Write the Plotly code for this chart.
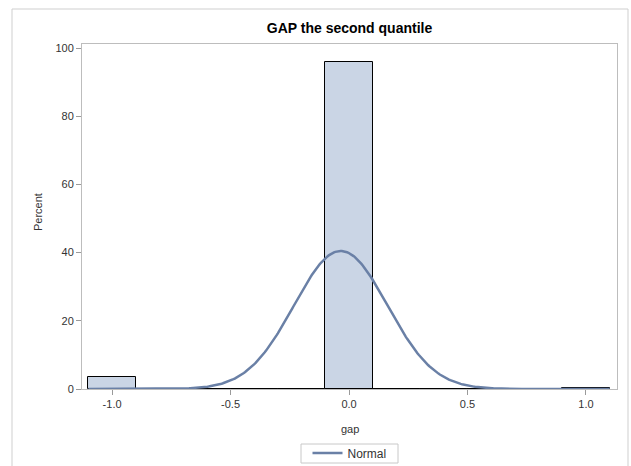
import numpy as np
import plotly.graph_objects as go

# ---- data ----
bin_centers = [-1.0, -0.8, -0.6, -0.4, -0.2, 0.0, 0.2, 0.4, 0.6, 0.8, 1.0]
bin_percent = [3.6, 0.0, 0.0, 0.0, 0.0, 96.0, 0.0, 0.0, 0.0, 0.0, 0.4]
bin_width = 0.2
normal_mean = -0.035
normal_std = 0.197
x_tick_vals = [-1.0, -0.5, 0.0, 0.5, 1.0]
x_tick_text = ["-1.0", "-0.5", "0.0", "0.5", "1.0"]
y_tick_vals = [0, 20, 40, 60, 80, 100]
y_tick_text = ["0", "20", "40", "60", "80", "100"]
title_text = "GAP the second quantile"
x_label = "gap"
y_label = "Percent"
legend_label = "Normal"

# normal fit curve (percent scale for the bin width)
lo = min(bin_centers) - bin_width / 2
hi = max(bin_centers) + bin_width / 2
xs = np.linspace(lo, hi, 400)
ys = 100 * bin_width * np.exp(-0.5 * ((xs - normal_mean) / normal_std) ** 2) / (normal_std * np.sqrt(2 * np.pi))

W, H = 631, 466
L, R, T, B = 82, 14, 44, 77
pw, ph = W - L - R, H - T - B

fig = go.Figure()
fig.add_trace(go.Bar(
    x=bin_centers, y=bin_percent, width=bin_width,
    marker=dict(color="#CAD5E5", line=dict(color="black", width=1)),
    showlegend=False, hoverinfo="skip",
))
fig.add_trace(go.Scatter(
    x=xs, y=ys, mode="lines", name=legend_label,
    line=dict(color="#6A80A6", width=2.5),
))

font = "Liberation Sans, Arial, sans-serif"
axis_common = dict(
    showline=True, linecolor="#BDBDBD", linewidth=1, mirror=True,
    ticks="outside", ticklen=5, tickcolor="#9A9A9A", tickwidth=1,
    showgrid=False, zeroline=False,
    tickfont=dict(family=font, size=11, color="#333333"),
)
fig.update_layout(
    width=W, height=H,
    margin=dict(l=L, r=R, t=T, b=B, autoexpand=False),
    paper_bgcolor="white", plot_bgcolor="white",
    bargap=0,
    xaxis=dict(range=[-1.127, 1.131], tickvals=x_tick_vals, ticktext=x_tick_text, **axis_common),
    yaxis=dict(range=[0, 101.2], tickvals=y_tick_vals, ticktext=y_tick_text, **axis_common),
    title=dict(text="<b>" + title_text + "</b>", x=(L + pw / 2) / W, xanchor="center",
               y=1 - 28 / H, yanchor="middle", font=dict(family=font, size=14, color="black")),
    showlegend=True,
    legend=dict(orientation="h", x=0.5, xanchor="center", y=(389 - 453) / ph, yanchor="middle",
                borderwidth=0, bgcolor="rgba(0,0,0,0)",
                font=dict(family=font, size=12, color="#333333"),
                tracegroupgap=0),
    font=dict(family=font),
)
# baseline outline of empty bins
fig.add_shape(type="line", xref="x", yref="y", x0=lo, x1=hi, y0=0, y1=0,
              line=dict(color="black", width=1), layer="below")
# outer frame around the graph
fig.add_shape(type="rect", xref="paper", yref="paper",
              x0=(12 - L) / pw, x1=(628 - L) / pw,
              y0=(389 - 475) / ph, y1=(389 - 9) / ph,
              line=dict(color="#CFCFCF", width=1), fillcolor="rgba(0,0,0,0)")
# legend frame
fig.add_shape(type="rect", xref="paper", yref="paper",
              x0=(301 - L) / pw, x1=(398 - L) / pw,
              y0=(389 - 463) / ph, y1=(389 - 444) / ph,
              line=dict(color="#C8C8C8", width=1), fillcolor="rgba(0,0,0,0)")
fig.add_annotation(text=x_label, xref="paper", yref="paper", x=0.5, y=(389 - 429) / ph,
                   showarrow=False, yanchor="middle", font=dict(family=font, size=11, color="#333333"))
fig.add_annotation(text=y_label, xref="paper", yref="paper", x=(38 - L) / pw, y=(389 - 212) / ph,
                   showarrow=False, textangle=-90, xanchor="center", yanchor="middle",
                   font=dict(family=font, size=11, color="#333333"))

fig.write_html("out.html")
